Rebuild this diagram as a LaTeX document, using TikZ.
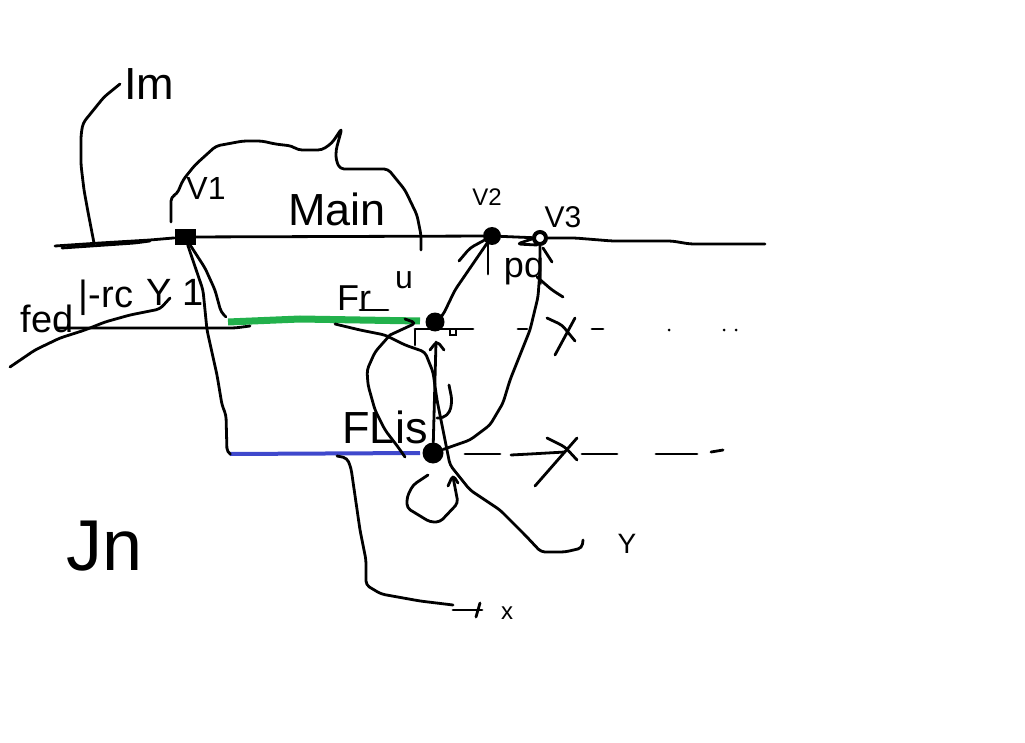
\documentclass[tikz,border=0pt]{standalone}
\usepackage{fontspec}
\setmainfont{Liberation Sans}
\tikzset{
    ink/.style={draw=black, line width=2.8pt, line cap=round, line join=round, rounded corners=4pt},
    dashpart/.style={draw=black, line width=2.8pt, line cap=round},
    blob/.style={circle, fill=black, inner sep=0pt, minimum size=#1},
    hand/.style={inner sep=0pt, font=\fontsize{#1}{#1}\selectfont}
}
\begin{document}
\begin{tikzpicture}[x=1pt, y=-1pt]
    \useasboundingbox (0, 0) rectangle (1025, 743);

    % Junctions on the lines
    \node[rectangle, fill=black, inner sep=0pt, minimum width=21pt, minimum height=16pt] (v1) at (185, 237) {};
    \node[blob=18pt] (v2) at (492, 236) {};
    \node[circle, draw=black, line width=4pt, inner sep=0pt, minimum size=12pt] (v3) at (540, 238) {};
    \node[blob=19pt] (fr) at (435, 322) {};
    \node[blob=21pt] (fl) at (433, 453) {};
    \node[rectangle, draw=black, line width=2.5pt, inner sep=0pt, minimum size=6pt] (frtag) at (453, 332) {};

    % Free ends of the strokes
    \coordinate (mainl) at (55, 246);
    \coordinate (mainr) at (765, 244);
    \coordinate (feedl) at (57, 328);
    \coordinate (frl) at (228, 322);
    \coordinate (frr) at (420, 321);
    \coordinate (fll) at (230, 454);
    \coordinate (flr) at (420, 453);

    % Coloured feeders
    \draw[line width=7pt, color={rgb,255:red,34;green,177;blue,76}] (frl) -- (300, 319) -- (frr);
    \draw[line width=4pt, color={rgb,255:red,63;green,72;blue,204}] (fll) -- (flr);

    % Main line and feeder line
    \draw[ink] (mainl) -- (100, 243) -- (150, 240) -- (v1);
    \draw[ink] (62, 248) -- (135, 243) -- (150, 241);
    \draw[ink] (v1) -- (v2);
    \draw[ink] (v2) -- (v3);
    \draw[ink] (v3) -- (575, 238) -- (612, 241) -- (672, 241) -- (690, 244) -- (mainr);
    \draw[ink] (feedl) -- (235, 328) -- (250, 326);

    % Dashes on the lower lines
    \foreach \a/\b in {473/415, 527/518, 603/592} {
        \draw[dashpart] (\a, 329) -- (\b, 329);
    }
    \foreach \a in {669, 724, 736} {
        \fill (\a, 330) circle (1.5pt);
    }
    \foreach \a/\b in {465/500, 582/617, 656/697} {
        \draw[dashpart] (\a, 454) -- (\b, 454);
    }
    \draw[ink] (511, 455) -- (530, 454) -- (565, 452);
    \draw[ink] (711, 452) -- (723, 450);

    % Crosses
    \draw[ink] (547, 318) -- (562, 325) -- (575, 341);
    \draw[ink] (575, 318) -- (555, 355);
    \draw[ink] (547, 438) -- (565, 447) -- (577, 460);
    \draw[ink] (577, 438) -- (535, 486);

    % Callout curves
    \draw[ink] (120, 84) -- (104, 97) -- (83, 123) -- (81, 135) -- (81, 165) -- (84, 190) -- (88, 212) -- (94, 243);
    \draw[ink] (171, 222) -- (171, 197) -- (177, 194) -- (183, 180) -- (195, 165) -- (216, 146) -- (243, 141) -- (262, 141) -- (275, 144) -- (292, 146) -- (298, 150) -- (322, 150) -- (332, 143) -- (342, 128) -- (336, 150) -- (336, 160) -- (340, 169) -- (388, 169) -- (405, 190) -- (417, 215) -- (421, 235) -- (421, 250);
    \draw[ink] (10, 367) -- (35, 350) -- (60, 338) -- (85, 330) -- (105, 322) -- (130, 315) -- (160, 309) -- (170, 298);
    \draw[ink] (337, 456) -- (347, 458) -- (351, 468) -- (360, 530) -- (366, 560) -- (366, 585) -- (381, 594) -- (420, 601) -- (453, 605);
    \draw[ink] (453, 610) -- (482, 610);
    \draw[ink] (480, 603) -- (476, 617);

    % Branches from the junctions
    \draw[ink] (v1) -- (203, 290) -- (207, 330) -- (217, 375) -- (222, 405) -- (226, 415) -- (227, 452) -- (fll);
    \draw[ink] (v1) -- (205, 268) -- (215, 290) -- (221, 312) -- (226, 317);
    \draw[ink] (v2) -- (470, 248) -- (459, 261);
    \draw[ink] (v2) -- (455, 290) -- (443, 315) -- (fr);
    \draw[ink] (488, 240) -- (488, 274);
    \draw[ink] (v3) -- (540, 270) -- (538, 297) -- (530, 330) -- (510, 380) -- (503, 403) -- (490, 425) -- (470, 440) -- (fl);
    \draw[ink] (537, 277) -- (552, 290) -- (563, 297);
    \draw[ink] (543, 248) -- (552, 262);
    \draw[ink] (535, 238) -- (517, 244) -- (537, 245);

    % Flow past the feeder junctions
    \draw[ink] (335, 324) -- (360, 330) -- (385, 335) -- (405, 345) -- (425, 352) -- (433, 372) -- (437, 400) -- (445, 440) -- (450, 465) -- (470, 490) -- (500, 510) -- (525, 535) -- (541, 552) -- (565, 552) -- (582, 548) -- (583, 540);
    \draw[ink] (390, 335) -- (375, 352) -- (367, 370) -- (368, 385) -- (375, 410) -- (385, 430) -- (398, 447) -- (405, 457);
    \draw[ink] (415, 330) -- (415, 345);
    \draw[ink] (405, 319) -- (416, 323) -- (390, 335);
    \draw[ink] (360, 310) -- (388, 310);

    % Arrows at the lower junction
    \draw[ink] (fl) -- (436, 342);
    \draw[ink] (430, 350) -- (437, 341) -- (444, 350);
    \draw[ink] (449, 385) -- (452, 400) -- (450, 412) -- (443, 418) -- (437, 418);
    \draw[ink] (428, 475) -- (413, 485) -- (407, 497) -- (407, 508) -- (430, 522) -- (440, 522) -- (458, 503) -- (453, 477);
    \draw[ink] (448, 486) -- (453, 475) -- (458, 483);

    % Labels
    \node[hand=45] (imlab) at (149, 84) {Im};
    \node[hand=32] (v1lab) at (206, 188) {V1};
    \node[hand=45] (mainlab) at (337, 209) {Main};
    \node[hand=24] (v2lab) at (487, 197) {V2};
    \node[hand=30] (v3lab) at (563, 217) {V3};
    \node[hand=36] (pqlab) at (524, 272) {pq};
    \node[hand=36] (frlab) at (354, 298) {Fr};
    \node[hand=32] (ulab) at (404, 280) {u};
    \node[hand=45] (fllab) at (385, 427) {FLis};
    \node[hand=72] (jnlab) at (105, 546) {Jn};
    \node[hand=24] (xlab) at (507, 613) {x};
    \node[hand=28] (ylab) at (627, 544) {Y};
    \node[hand=38] (fedlab) at (47, 319) {fed};
    \node[hand=38] (rclab) at (106, 298) {|-rc};
    \node[hand=38] (y1lab) at (175, 292) {Y 1};
\end{tikzpicture}
\end{document}
